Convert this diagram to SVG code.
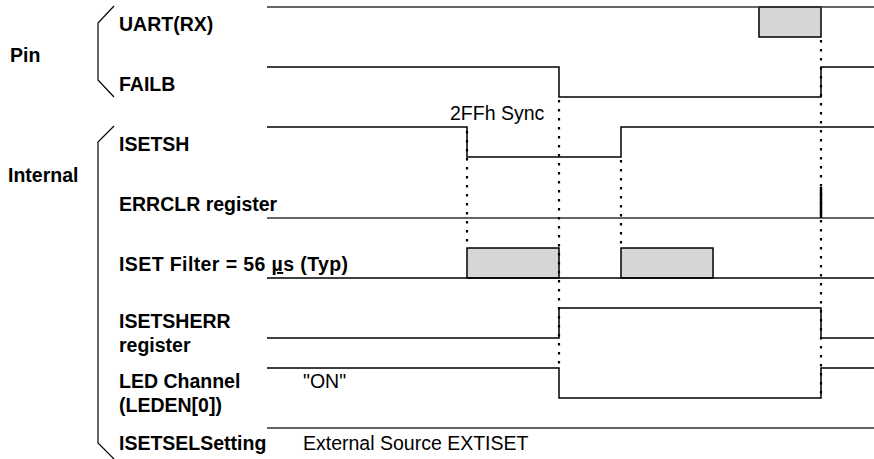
<svg xmlns="http://www.w3.org/2000/svg" width="874" height="459" viewBox="0 0 874 459">
<style>
.lbl{font-family:"Liberation Sans",Arial,sans-serif;font-size:19.5px;font-weight:bold;fill:#000}
.txt{font-family:"Liberation Sans",Arial,sans-serif;font-size:19.5px;fill:#000}
.sig{fill:none;stroke:#000;stroke-width:1.5}
.base{fill:none;stroke:#333;stroke-width:1.5}
.box{fill:#d6d6d6;stroke:#000;stroke-width:1.5}
.dot{fill:none;stroke:#000;stroke-width:2.2;stroke-dasharray:2.5 6.5}
.brk{fill:none;stroke:#000;stroke-width:1.2}
</style>
<rect width="874" height="459" fill="#fff"/>
<g id="groups">
<text class="lbl" x="10" y="62">Pin</text>
<text class="lbl" x="8" y="182">Internal</text>
<path class="brk" d="M114,6 L98,23 L98,80 L114,97"/>
<path class="brk" d="M114,126 L98,142 L98,443 L114,459"/>
</g>
<g id="labels">
<text class="lbl" x="119" y="31">UART(RX)</text>
<text class="lbl" x="119" y="91">FAILB</text>
<text class="lbl" x="119" y="151">ISETSH</text>
<text class="lbl" x="119" y="211">ERRCLR register</text>
<text class="lbl" x="119" y="271" letter-spacing="0.4">ISET Filter = 56 <tspan text-decoration="underline">µ</tspan>s (Typ)</text>
<text class="lbl" x="119" y="328">ISETSHERR</text>
<text class="lbl" x="119" y="352">register</text>
<text class="lbl" x="119" y="388">LED Channel</text>
<text class="lbl" x="119" y="412">(LEDEN[0])</text>
<text class="lbl" x="119" y="450">ISETSELSetting</text>
<text class="txt" x="303" y="388">"ON"</text>
<text class="txt" x="303" y="450">External Source EXTISET</text>
<text class="txt" x="450" y="120">2FFh Sync</text>
</g>
<g id="signals">
<g id="uart">
<rect class="box" x="759" y="7" width="62" height="30"/>
<path class="base" d="M267,7 L874,7"/>
</g>
<path id="failb" class="sig" d="M267,67 L559,67 L559,97 L821,97 L821,67 L874,67"/>
<path id="isetsh" class="sig" d="M267,127 L467,127 L467,157 L621,157 L621,127 L874,127"/>
<g id="errclr">
<path class="base" d="M267,218 L874,218"/>
<path fill="none" stroke="#000" stroke-width="2.5" d="M821,187 L821,218"/>
</g>
<g id="filter">
<rect class="box" x="467" y="248" width="92" height="30"/>
<rect class="box" x="621" y="248" width="92" height="30"/>
<path class="sig" d="M267,278 L874,278"/>
</g>
<path id="isetsherr" class="sig" d="M267,338 L559,338 L559,308 L821,308 L821,338 L874,338"/>
<path id="led" class="sig" d="M267,368 L559,368 L559,398 L821,398 L821,368 L874,368"/>
<path id="isetsel" class="base" d="M267,428 L874,428"/>
</g>
<g id="connectors">
<path class="dot" d="M467,131 L467,248"/>
<path class="dot" d="M559,100 L559,370"/>
<path class="dot" d="M621,160 L621,248"/>
<path class="dot" d="M821,40 L821,398"/>
</g>
</svg>
